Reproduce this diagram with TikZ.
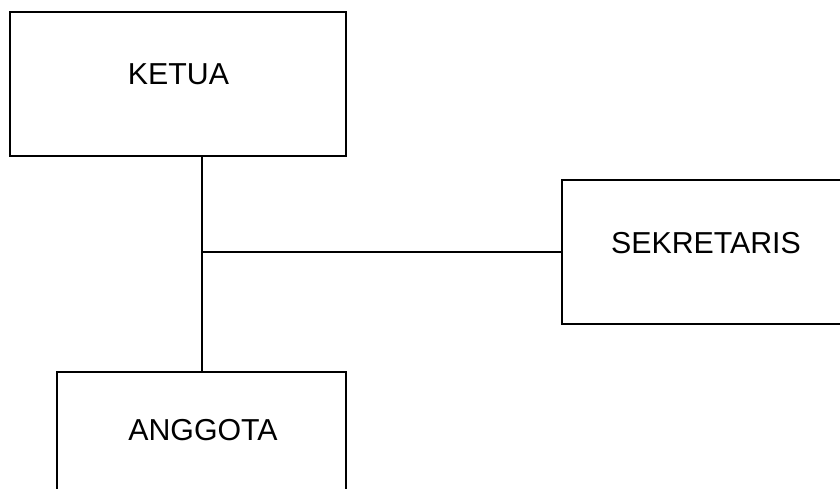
\documentclass[tikz,border=0pt]{standalone}
\usepackage{fontspec}
\setmainfont{Liberation Sans}
\begin{document}
\begin{tikzpicture}[x=1pt,y=-1pt,
  unit/.style={draw=black,line width=2pt,rectangle,inner sep=0pt},
  caption/.style={font=\fontsize{30.3}{35}\selectfont,inner sep=0pt,anchor=center},
  link/.style={draw=black,line width=2pt}]
\useasboundingbox (0,0) rectangle (840,488);
\clip (0,0) rectangle (840,488);
% boxes (two of them run past the page edge)
\node[unit,minimum width=336pt,minimum height=144pt] (ketua) at (178,84) {};
\node[unit,minimum width=300pt,minimum height=144pt] (sek) at (712,252) {};
\node[unit,minimum width=289pt,minimum height=140pt] (ang) at (201.5,442) {};
% texts
\node[caption] (tketua) at (178.5,74) {KETUA};
\node[caption] (tsek) at (706,243) {SEKRETARIS};
\node[caption] (tang) at (203,430.5) {ANGGOTA};
% connectors
\coordinate (j) at (202,252);
\draw[link] (ketua.south -| j) -- (ang.north -| j);
\draw[link] (j) -- (sek.west |- j);
\end{tikzpicture}
\end{document}
